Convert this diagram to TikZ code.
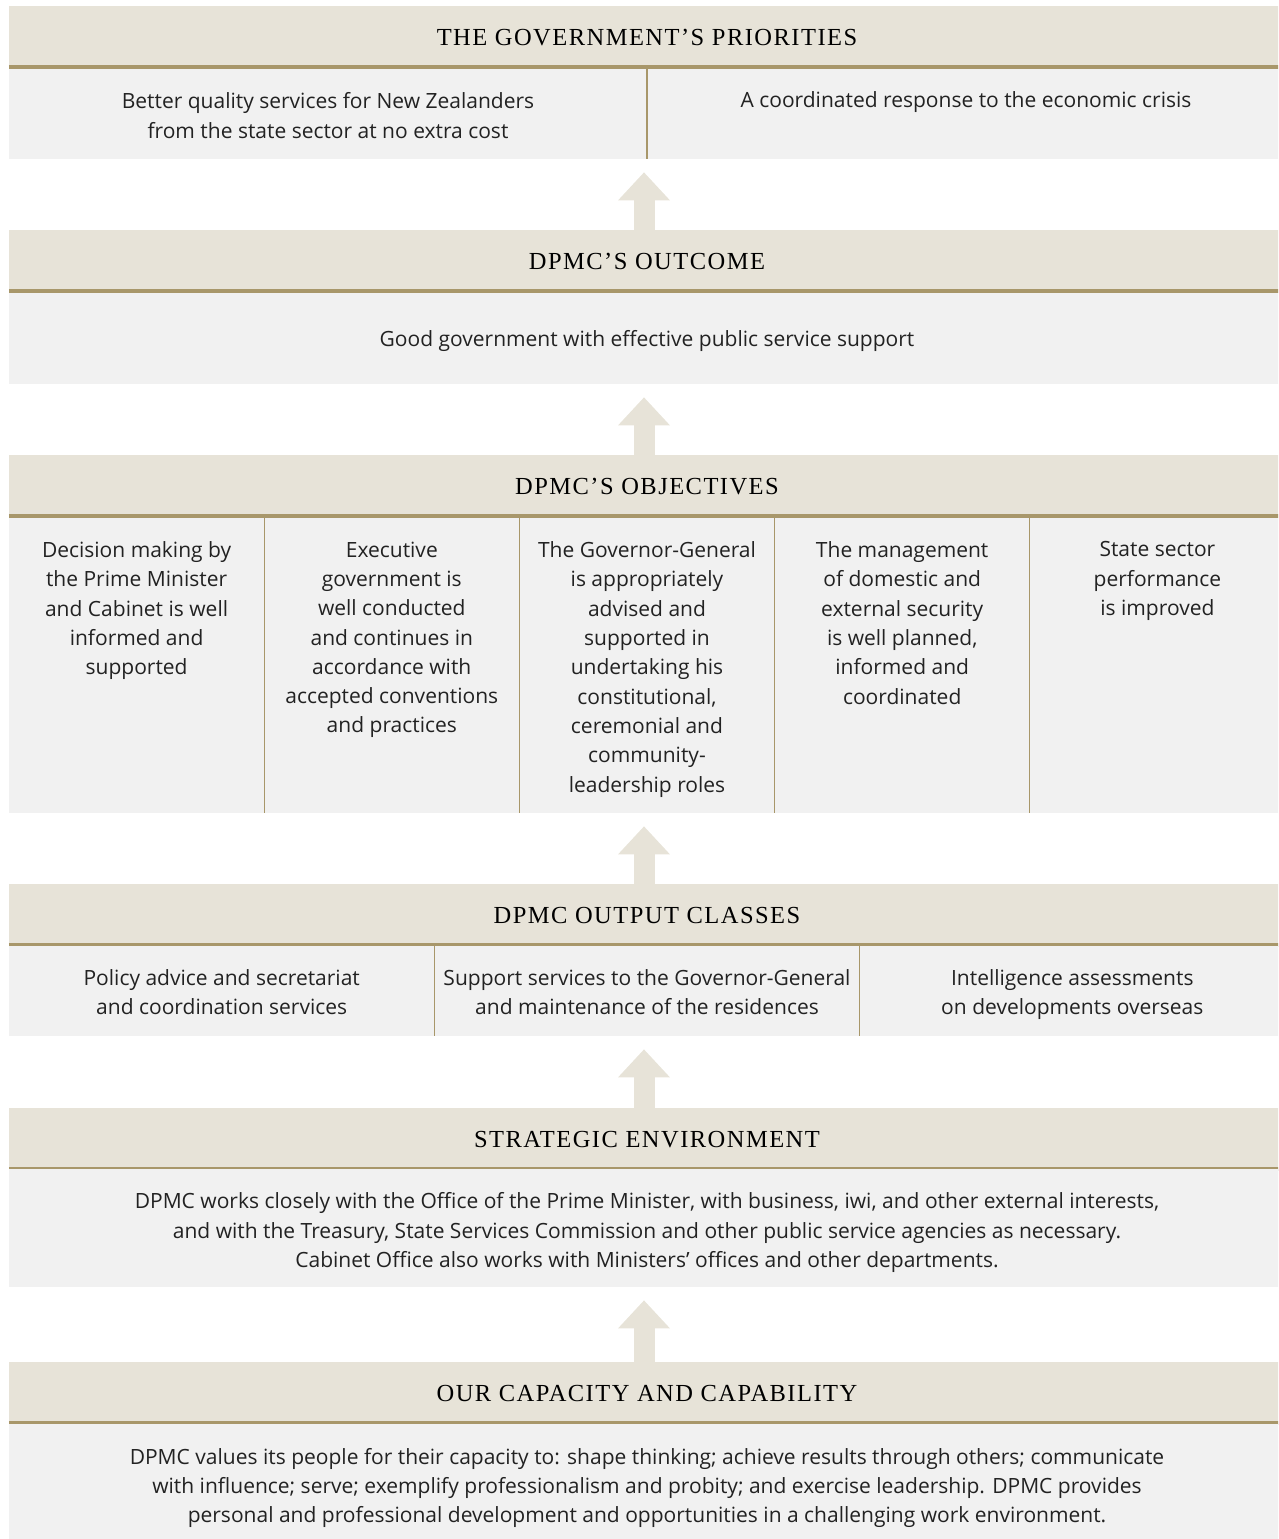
\documentclass[tikz,border=0pt]{standalone}
\usepackage{fontspec}
\setmainfont{Open Sans}
\newfontfamily\headfam[LetterSpace=6]{Liberation Serif}
\usetikzlibrary{positioning,arrows.meta}
\definecolor{headfill}{HTML}{E7E3D8}
\definecolor{rulegold}{HTML}{A8976A}
\definecolor{bodyfill}{HTML}{F1F1F1}
\definecolor{inktext}{HTML}{222222}
\newcommand\headfont{\headfam\fontsize{24.5}{28}\selectfont}
\newcommand\bodyfont{\fontsize{21}{29.3}\selectfont}

\begin{document}
\begin{tikzpicture}[x=1pt, y=-1pt,
    headbox/.style={fill=headfill, anchor=north, minimum width=1276pt, minimum height=63pt, inner sep=0pt, font=\headfont, text=black},
    bodybox/.style={fill=bodyfill, anchor=north, minimum width=1276pt, inner sep=0pt},
    celltext/.style={anchor=north, align=center, inner sep=0pt, font=\bodyfont, text=inktext, execute at begin node=\strut},
    goldrule/.style={draw=rulegold, line width=4pt},
    divider/.style={draw=rulegold, line width=1.2pt},
    uparrow/.style={draw=headfill, line width=21pt, -{Triangle[width=52pt, length=28pt, line width=0pt]}, shorten >=13pt}]
    \useasboundingbox (0,0) rectangle (1278,1539);
    \clip (0,0) rectangle (1278,1539);

    % government priorities
    \node[headbox] (priohead) at (647,6) {THE GOVERNMENT’S PRIORITIES};
    \draw[goldrule] ([yshift=2pt]priohead.south west) -- ([yshift=2pt]priohead.south east);
    \node[bodybox, minimum height=90pt] (priobody) at (647,69) {};
    \draw[divider] (647,69) -- (647,159);
    \node[celltext] (prio1) at (328,92.5) {Better quality services for New Zealanders\\from the state sector at no extra cost};
    \node[celltext] (prio2) at (966,86.5) {A coordinated response to the economic crisis};

    % outcome
    \node[headbox] (outcomehead) at (647,230) {DPMC’S OUTCOME};
    \draw[goldrule] ([yshift=2pt]outcomehead.south west) -- ([yshift=2pt]outcomehead.south east);
    \node[bodybox, minimum height=91pt] (outcomebody) at (647,293) {};
    \node[celltext] (outcome1) at (647,325.5) {Good government with effective public service support};

    % objectives
    \node[headbox] (objhead) at (647,455) {DPMC’S OBJECTIVES};
    \draw[goldrule] ([yshift=2pt]objhead.south west) -- ([yshift=2pt]objhead.south east);
    \node[bodybox, minimum height=295pt] (objbody) at (647,518) {};
    \foreach \x in {264.2,519.4,774.6,1029.8}
        \draw[divider] (\x,518) -- (\x,813);
    \node[celltext] (obj1) at (136.6,541.5) {Decision making by\\the Prime Minister\\and Cabinet is well\\informed and\\supported};
    \node[celltext] (obj2) at (391.8,541.5) {Executive\\government is\\well conducted\\and continues in\\accordance with\\accepted conventions\\and practices};
    \node[celltext] (obj3) at (647,541.5) {The Governor-General\\is appropriately\\advised and\\supported in\\undertaking his\\constitutional,\\ceremonial and\\community-\\leadership roles};
    \node[celltext] (obj4) at (902.2,541.5) {The management\\of domestic and\\external security\\is well planned,\\informed and\\coordinated};
    \node[celltext] (obj5) at (1157.4,541.5) {State sector\\performance\\is improved};

    % output classes
    \node[headbox] (outhead) at (647,884) {DPMC OUTPUT CLASSES};
    \draw[goldrule] ([yshift=2pt]outhead.south west) -- ([yshift=2pt]outhead.south east);
    \node[bodybox, minimum height=90pt] (outbody) at (647,946) {};
    \foreach \x in {434.3,859.7}
        \draw[divider] (\x,946) -- (\x,1036);
    \node[celltext] (out1) at (221.7,969.5) {Policy advice and secretariat\\and coordination services};
    \node[celltext] (out2) at (647,969.5) {Support services to the Governor-General\\and maintenance of the residences};
    \node[celltext] (out3) at (1072.3,969.5) {Intelligence assessments\\on developments overseas};

    % strategic environment
    \node[headbox] (envhead) at (647,1108) {STRATEGIC ENVIRONMENT};
    \draw[goldrule] ([yshift=2pt]envhead.south west) -- ([yshift=2pt]envhead.south east);
    \node[bodybox, minimum height=118pt] (envbody) at (647,1169) {};
    \node[celltext] (env1) at (647,1192.5) {DPMC works closely with the Office of the Prime Minister, with business, iwi, and other external interests,\\and with the Treasury, State Services Commission and other public service agencies as necessary.\\Cabinet Office also works with Ministers’ offices and other departments.};

    % capacity and capability
    \node[headbox] (caphead) at (647,1362) {OUR CAPACITY AND CAPABILITY};
    \draw[goldrule] ([yshift=2pt]caphead.south west) -- ([yshift=2pt]caphead.south east);
    \node[bodybox, minimum height=120pt] (capbody) at (647,1424) {};
    \node[celltext] (cap1) at (647,1448) {DPMC values its people for their capacity to: shape thinking; achieve results through others; communicate\\with influence; serve; exemplify professionalism and probity; and exercise leadership. DPMC provides\\personal and professional development and opportunities in a challenging work environment.};

    % arrows upwards
    \draw[uparrow] ([xshift=-3pt]outcomehead.north) -- ([xshift=-3pt]priobody.south);
    \draw[uparrow] ([xshift=-3pt]objhead.north) -- ([xshift=-3pt]outcomebody.south);
    \draw[uparrow] ([xshift=-3pt]outhead.north) -- ([xshift=-3pt]objbody.south);
    \draw[uparrow] ([xshift=-3pt]envhead.north) -- ([xshift=-3pt]outbody.south);
    \draw[uparrow] ([xshift=-3pt]caphead.north) -- ([xshift=-3pt]envbody.south);
\end{tikzpicture}
\end{document}
